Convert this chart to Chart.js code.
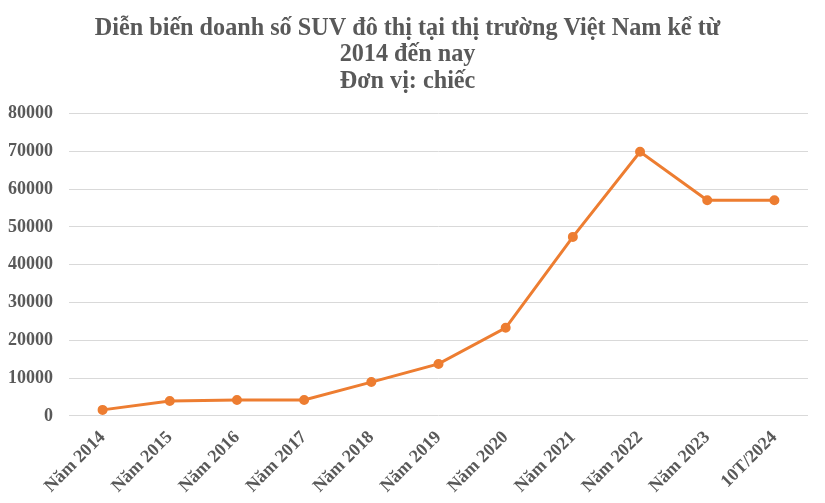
<!DOCTYPE html>
<html>
<head>
<meta charset="utf-8">
<script src="https://cdn.jsdelivr.net/npm/chart.js@4/dist/chart.umd.min.js"></script>
<style>
  html, body { margin: 0; padding: 0; background: #fff; }
  #wrap { width: 825px; height: 503px; position: relative; }
</style>
</head>
<body>
<div id="wrap"><canvas id="chartSuv"></canvas></div>
<script>
// --- données ---
const labels = ['Năm 2014', 'Năm 2015', 'Năm 2016', 'Năm 2017', 'Năm 2018', 'Năm 2019',
                'Năm 2020', 'Năm 2021', 'Năm 2022', 'Năm 2023', '10T/2024'];
const sales = [1600, 3950, 4200, 4200, 8950, 13750, 23300, 47350, 69850, 57050, 57050];
const titleLines = ['Diễn biến doanh số SUV đô thị tại thị trường Việt Nam kể từ', '2014 đến nay', 'Đơn vị: chiếc'];

const grey = '#595959';
const orange = '#ED7D31';
const serif = "'Liberation Serif', 'Times New Roman', serif";

new Chart(document.getElementById('chartSuv'), {
    type: 'line',
    data: {
        labels: labels,
        datasets: [{
            data: sales,
            borderColor: orange,
            backgroundColor: orange,
            borderWidth: 3,
            pointRadius: 3.5,
            pointHoverRadius: 3.5,
            tension: 0
        }]
    },
    options: {
        responsive: true,
        maintainAspectRatio: false,
        animation: false,
        layout: { padding: { left: 7, right: 17, top: 16, bottom: 3 } },
        plugins: {
            legend: { display: false },
            tooltip: { enabled: false },
            title: {
                display: true,
                text: titleLines,
                color: grey,
                font: { family: serif, size: 24.2, weight: 'bold', lineHeight: 1.08 },
                padding: { top: 0, bottom: 19 }
            }
        },
        scales: {
            y: {
                min: 0,
                max: 80000,
                afterFit: s => { s.width = 62; },
                ticks: {
                    stepSize: 10000, color: grey, padding: 16,
                    font: { family: serif, size: 18, weight: 'bold' },
                    callback: v => String(v)
                },
                grid: { color: '#d9d9d9', drawTicks: false },
                border: { display: false }
            },
            x: {
                offset: true,
                grid: { display: false, offset: true },
                border: { display: false },
                afterFit: s => { s.paddingLeft = 0; s.paddingRight = 0; },
                ticks: { color: grey, minRotation: 45, maxRotation: 45, padding: 3, font: { family: serif, size: 18, weight: 'bold' } }
            }
        }
    }
});
</script>
</body>
</html>
